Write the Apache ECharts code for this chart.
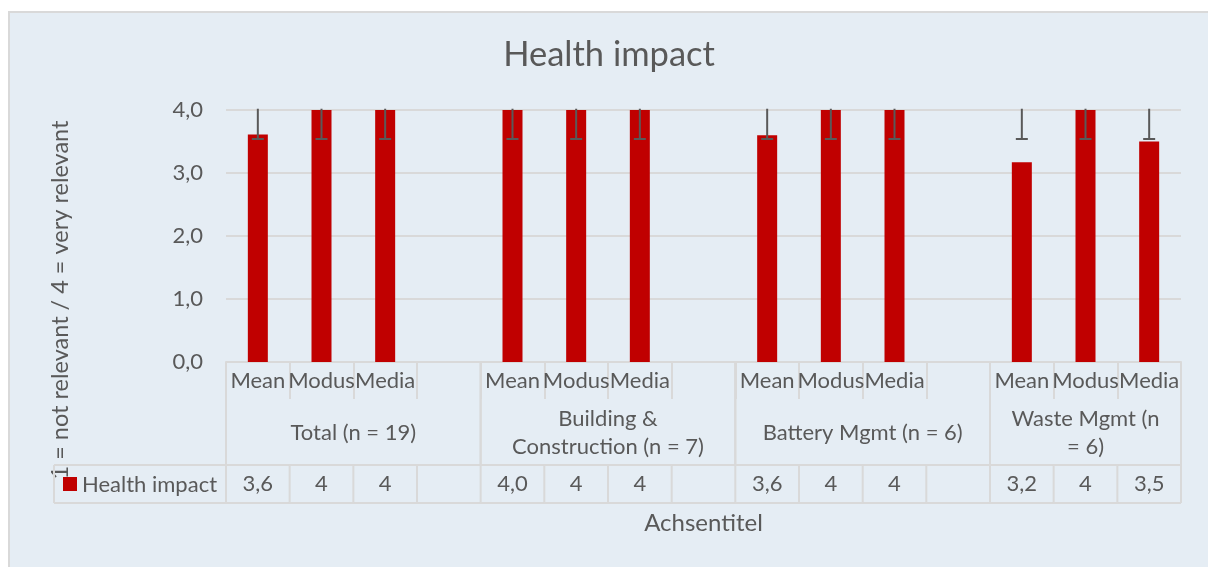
<!DOCTYPE html>
<html>
<head>
<meta charset="utf-8">
<script src="https://cdn.jsdelivr.net/npm/echarts@6/dist/echarts.min.js"></script>
<style>
  html, body { margin: 0; padding: 0; background: #fff; }
  #main { width: 1208px; height: 567px; }
</style>
</head>
<body>
<div id="main"></div>
<script>
// chart data
var categories = ['Mean', 'Modus', 'Media', '', 'Mean', 'Modus', 'Media', '', 'Mean', 'Modus', 'Media', '', 'Mean', 'Modus', 'Media']
var groups = ['Total (n = 19)', 'Building &\nConstruction (n = 7)', 'Battery Mgmt (n = 6)', 'Waste Mgmt (n\n= 6)']
var groupSize = [4, 4, 4, 3]
var health = [3.61, 4, 4, null, 4, 4, 4, null, 3.6, 4, 4, null, 3.17, 4, 3.5]
var errLow = [3.54, 3.54, 3.54, null, 3.54, 3.54, 3.54, null, 3.54, 3.54, 3.54, null, 3.54, 3.54, 3.54]
var errHigh = [4.02, 4.02, 4.02, null, 4.02, 4.02, 4.02, null, 4.02, 4.02, 4.02, null, 4.02, 4.02, 4.02]
var yTicks = [0, 1, 2, 3, 4]

var textColor = '#595959'
var lineColor = '#d9d9d9'
var font = 'Lato'
var fs = 22

// table row text: means with one decimal, others as they are
var tableText = health.map(function (v, i) {
  if (v === null) return ''
  var s = categories[i] === 'Mean' ? v.toFixed(1) : String(v)
  return s.replace('.', ',')
})

var errData = []
for (var i = 0; i < health.length; i++) {
  if (errLow[i] !== null) errData.push([i, errLow[i], errHigh[i]])
}

var myChart = echarts.init(document.getElementById('main'), null, {renderer: 'canvas'})

myChart.setOption({
  animation: false,
  textStyle: {fontFamily: font},
  grid: {left: 226, right: 27, top: 110, bottom: 205},
  xAxis: [
    {
      type: 'category',
      data: categories,
      axisLine: {lineStyle: {color: lineColor, width: 2}},
      axisTick: {show: true, interval: 0, length: 37, lineStyle: {color: lineColor, width: 2}},
      axisLabel: {interval: 0, margin: 8, fontSize: fs, color: textColor, fontFamily: font},
      name: 'Achsentitel',
      nameLocation: 'middle',
      nameGap: 149,
      nameTextStyle: {fontSize: 24, color: textColor, fontFamily: font}
    },
    {
      type: 'category',
      data: tableText,
      position: 'bottom',
      axisLine: {show: false},
      axisTick: {show: false},
      axisLabel: {interval: 0, margin: 111, fontSize: fs, color: textColor, fontFamily: font}
    }
  ],
  yAxis: {
    type: 'value',
    min: yTicks[0],
    max: yTicks[yTicks.length - 1],
    interval: 1,
    axisLine: {show: false},
    axisTick: {show: false},
    splitLine: {lineStyle: {color: lineColor, width: 2}},
    axisLabel: {
      margin: 23,
      fontSize: fs,
      color: textColor,
      fontFamily: font,
      formatter: function (v) { return v.toFixed(1).replace('.', ',') }
    }
  },
  series: [
    {
      name: 'Health impact',
      type: 'bar',
      data: health,
      barWidth: 20,
      itemStyle: {color: '#c00000'}
    },
    {
      name: 'error',
      type: 'custom',
      data: errData,
      z: 5,
      renderItem: function (params, api) {
        var low = api.coord([api.value(0), api.value(1)])
        var high = api.coord([api.value(0), api.value(2)])
        var style = {stroke: textColor, lineWidth: 2}
        return {
          type: 'group',
          children: [
            {type: 'line', shape: {x1: high[0], y1: high[1], x2: low[0], y2: low[1]}, style: style},
            {type: 'line', shape: {x1: low[0] - 6, y1: low[1], x2: low[0] + 6, y2: low[1]}, style: style}
          ]
        }
      }
    }
  ]
})

// table lines and group labels, placed from the category axis
function buildTable () {
  var c0 = myChart.convertToPixel({xAxisIndex: 0}, 0)
  var c1 = myChart.convertToPixel({xAxisIndex: 0}, 1)
  var bw = c1 - c0
  var axisY = myChart.convertToPixel({yAxisIndex: 0}, 0)
  var edge = function (i) { return c0 - bw / 2 + i * bw }
  var rowTop = 465
  var rowBottom = 503
  var tableLeft = 54
  var right = edge(categories.length)
  var lineStyle = {stroke: lineColor, lineWidth: 2}
  var els = []

  els.push({
    type: 'rect', z: -10, silent: true,
    shape: {x: 9, y: 12, width: 1300, height: 700},
    style: {fill: '#e5edf4', stroke: lineColor, lineWidth: 2}
  })
  els.push({
    type: 'text', x: 609, y: 55,
    style: {text: 'Health impact', fontSize: 34.5, fontFamily: font, fill: textColor, align: 'center', verticalAlign: 'middle'}
  })
  els.push({
    type: 'text', x: 60, y: 300, rotation: Math.PI / 2,
    style: {text: '1 = not relevant / 4 = very relevant', fontSize: 23.5, fontFamily: font, fill: textColor, align: 'center', verticalAlign: 'middle'}
  })

  // horizontal table lines
  els.push({type: 'line', shape: {x1: tableLeft, y1: rowTop, x2: right, y2: rowTop}, style: lineStyle})
  els.push({type: 'line', shape: {x1: tableLeft, y1: rowBottom, x2: right, y2: rowBottom}, style: lineStyle})
  els.push({type: 'line', shape: {x1: tableLeft, y1: rowTop, x2: tableLeft, y2: rowBottom}, style: lineStyle})

  // cell separators in the data row
  for (var k = 0; k <= categories.length; k++) {
    els.push({type: 'line', shape: {x1: edge(k), y1: rowTop, x2: edge(k), y2: rowBottom}, style: lineStyle})
  }

  // group separators and labels
  var start = 0
  for (var g = 0; g < groups.length; g++) {
    var x0 = edge(start)
    var x1 = edge(start + groupSize[g])
    els.push({type: 'line', shape: {x1: x0, y1: axisY, x2: x0, y2: rowTop}, style: lineStyle})
    els.push({type: 'line', shape: {x1: x1, y1: axisY, x2: x1, y2: rowTop}, style: lineStyle})
    els.push({
      type: 'text', x: (x0 + x1) / 2, y: 433,
      style: {text: groups[g], fontSize: fs, lineHeight: 28, fontFamily: font, fill: textColor, align: 'center', verticalAlign: 'middle'}
    })
    start += groupSize[g]
  }

  // legend key in the table row
  els.push({type: 'rect', shape: {x: 63, y: 477, width: 14, height: 14}, style: {fill: '#c00000'}})
  els.push({
    type: 'text', x: 82, y: 485,
    style: {text: 'Health impact', fontSize: fs, fontFamily: font, fill: textColor, align: 'left', verticalAlign: 'middle'}
  })

  myChart.setOption({graphic: els})
}
buildTable()
window.onresize = myChart.resize
</script>
</body>
</html>
